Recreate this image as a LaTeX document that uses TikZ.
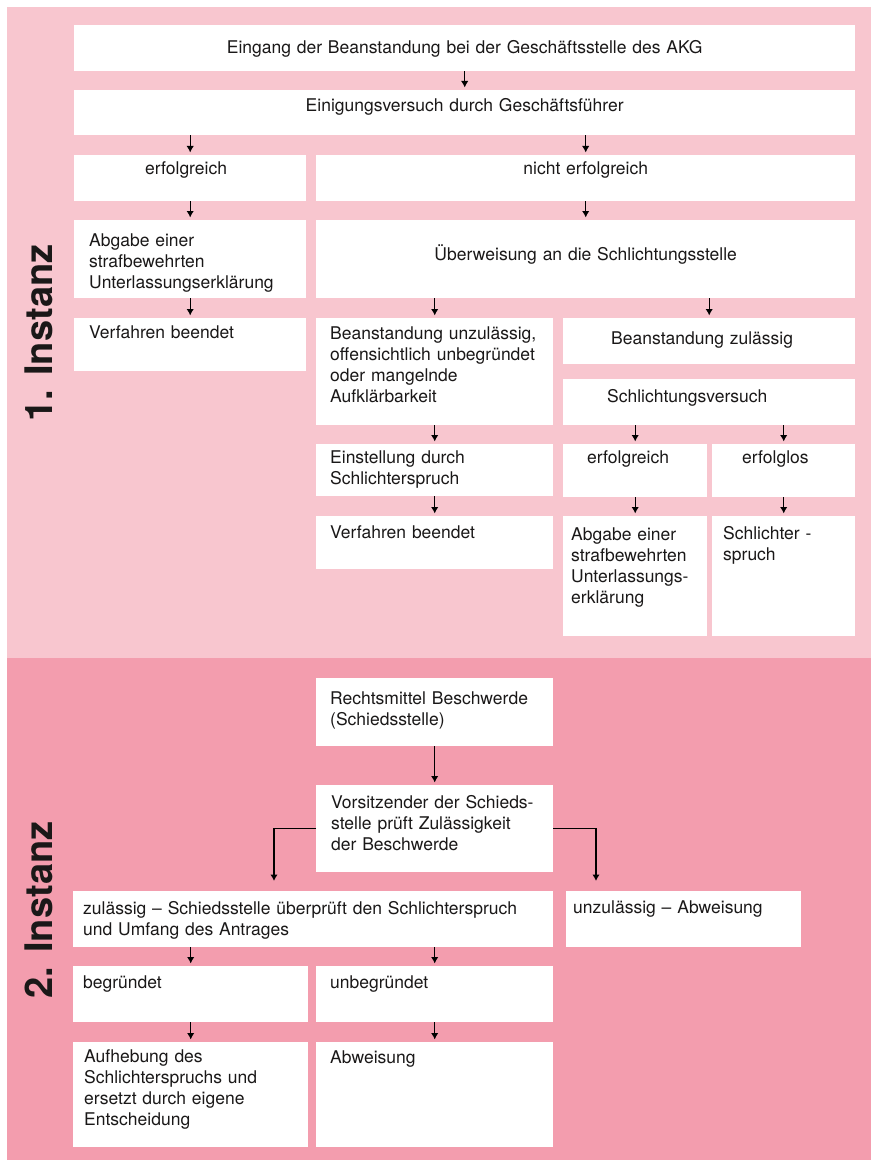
\documentclass[tikz,border=0pt]{standalone}
\usepackage{fontspec}
\setmainfont{TeX Gyre Heros}
\usepackage{tikz}
\usetikzlibrary{arrows.meta}
\usetikzlibrary{positioning}
\definecolor{instone}{RGB}{248,198,207}
\definecolor{insttwo}{RGB}{243,157,174}
\definecolor{inktext}{RGB}{26,24,24}

\begin{document}
\begin{tikzpicture}[x=1pt,y=-1pt,
  box/.style={fill=white, anchor=north west, inner ysep=0pt, align=left, text=inktext,
    font=\fontsize{17.5}{21}\selectfont},
  dims/.style n args={4}{inner xsep=#3, text width=#1-2*#3, text height=#4, text depth=#2-#4},
  flow/.style={line width=1.4pt, -{Latex[length=6.5pt, width=7.5pt]}, shorten >=2.5pt},
  inst/.style={text=inktext, font=\fontsize{38}{40}\selectfont\bfseries, rotate=90}]
\useasboundingbox (0,0) rectangle (871,1161);
\fill [instone] (7,7) rectangle (871,658);
\fill [insttwo] (7,658) rectangle (871,1160);
\node[inst] (instone) at (39,333) {1. Instanz};
\node[inst] (insttwo) at (39,910) {2. Instanz};
% 1. Instanz
\node[box, dims={781}{46}{10}{28}, align=center] (eingang) at (74,25) {Eingang der Beanstandung bei der Geschäftsstelle des AKG};
\node[box, dims={781}{45}{10}{21}, align=center] (einigung) at (74,90) {Einigungsversuch durch Geschäftsführer};
\node[box, dims={232}{46}{71}{19}] (erfolg) at (74,155) {erfolgreich};
\node[box, dims={539}{46}{10}{19}, align=center] (nichterfolg) at (316,155) {nicht erfolgreich};
\node[box, dims={232}{78}{15}{26}] (abgabe) at (74,220) {Abgabe einer\\strafbewehrten\\Unterlassungserklärung};
\node[box, dims={539}{78}{10}{40}, align=center] (ueberweisung) at (316,220) {Überweisung an die Schlichtungsstelle};
\node[box, dims={232}{53}{15}{20}] (beendet) at (74,318) {Verfahren beendet};
\node[box, dims={237}{107}{14}{21}] (unzul) at (316,318) {Beanstandung unzulässig,\\offensichtlich unbegründet\\oder mangelnde\\Aufklärbarkeit};
\node[box, dims={292}{46}{48}{26}] (zul) at (563,318) {Beanstandung zulässig};
\node[box, dims={292}{46}{44}{23}] (schlicht) at (563,379) {Schlichtungsversuch};
\node[box, dims={237}{52}{14}{19}] (einstellung) at (316,444) {Einstellung durch\\Schlichterspruch};
\node[box, dims={144}{53}{24}{19}] (erfolgzwei) at (563,444) {erfolgreich};
\node[box, dims={143}{53}{30}{19}] (erfolglos) at (712,444) {erfolglos};
\node[box, dims={237}{53}{14}{22}] (beendetzwei) at (316,516) {Verfahren beendet};
\node[box, dims={144}{120}{8}{24}] (abgabezwei) at (563,516) {Abgabe einer\\strafbewehrten\\Unterlassungs-\\erklärung};
\node[box, dims={143}{120}{11}{23}] (spruch) at (712,516) {Schlichter -\\spruch};
% 2. Instanz
\node[box, dims={237}{68}{14}{26}] (beschwerde) at (316,678) {Rechtsmittel Beschwerde\\(Schiedsstelle)};
\node[box, dims={237}{87}{15}{23}] (vorsitz) at (316,785) {Vorsitzender der Schieds-\\stelle prüft Zulässigkeit\\der Beschwerde};
\node[box, dims={480}{56}{10}{23}] (zulaessig) at (73,891) {zulässig – Schiedsstelle überprüft den Schlichterspruch\\und Umfang des Antrages};
\node[box, dims={235}{56}{7}{22}] (unzulaessig) at (566,891) {unzulässig – Abweisung};
\node[box, dims={235}{56}{10}{22}] (begruendet) at (73,966) {begründet};
\node[box, dims={237}{56}{14}{22}] (unbegruendet) at (316,966) {unbegründet};
\node[box, dims={235}{105}{11}{20}] (aufhebung) at (73,1042) {Aufhebung des\\Schlichterspruchs und\\ersetzt durch eigene\\Entscheidung};
\node[box, dims={237}{105}{14}{21}] (abweisung) at (316,1042) {Abweisung};
% Pfeile
\draw [flow] (einigung.north |- eingang.south) -- (einigung.north);
\draw [flow] (erfolg.north |- einigung.south) -- (erfolg.north);
\draw [flow] (nichterfolg.north |- einigung.south) -- (nichterfolg.north);
\draw [flow] (erfolg.south) -- (abgabe.north);
\draw [flow] (nichterfolg.south) -- (ueberweisung.north);
\draw [flow] (abgabe.south) -- (beendet.north);
\draw [flow] (unzul.north |- ueberweisung.south) -- (unzul.north);
\draw [flow] (zul.north |- ueberweisung.south) -- (zul.north);
\draw [flow] (unzul.south) -- (einstellung.north);
\draw [flow] (einstellung.south) -- (beendetzwei.north);
\draw [flow] (erfolgzwei.north |- schlicht.south) -- (erfolgzwei.north);
\draw [flow] (erfolglos.north |- schlicht.south) -- (erfolglos.north);
\draw [flow] (erfolgzwei.south) -- (abgabezwei.north);
\draw [flow] (erfolglos.south) -- (spruch.north);
\draw [flow] (beschwerde.south) -- (vorsitz.north);
\draw [flow, shorten >=10pt] (vorsitz.west) -| ([xshift=201pt]zulaessig.north west);
\draw [flow, shorten >=10pt] (vorsitz.east) -| ([xshift=30pt]unzulaessig.north west);
\draw [flow] (begruendet.north |- zulaessig.south) -- (begruendet.north);
\draw [flow] (unbegruendet.north |- zulaessig.south) -- (unbegruendet.north);
\draw [flow] (begruendet.south) -- (aufhebung.north);
\draw [flow] (unbegruendet.south) -- (abweisung.north);
\end{tikzpicture}
\end{document}
